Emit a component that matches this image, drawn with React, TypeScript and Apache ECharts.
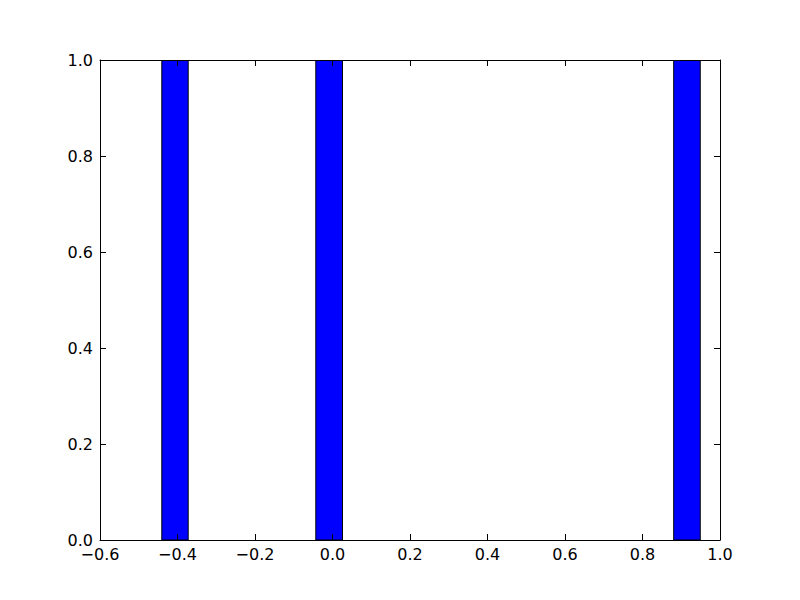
import React, { useEffect, useRef } from "react";
import * as echarts from "echarts";

const binLefts = [-0.4405, -0.0431, 0.8805];
const binRights = [-0.3724, 0.0258, 0.9490];
const counts = [1, 1, 1];
const xTicks = { min: -0.6, max: 1.0, interval: 0.2 };
const yTicks = { min: 0, max: 1.0, interval: 0.2 };

const fmt = (v: number) => {
  const n = Math.abs(v) < 1e-9 ? 0 : v;
  return n.toFixed(1).replace("-", "\u2212");
};

export default function App() {
  const ref = useRef<HTMLDivElement>(null);
  useEffect(() => {
    const chart = echarts.init(ref.current!, undefined, { renderer: "svg" });
    const data = binLefts.map((l, i) => [l, binRights[i], counts[i]]);
    const font = { fontFamily: "DejaVu Sans", fontSize: 16, color: "#000" };
    const lineStyle = { color: "#000", width: 1 };
    const tick = { show: true, inside: true, length: 6, lineStyle };
    chart.setOption({
      animation: false,
      backgroundColor: "#fff",
      grid: { left: 100, right: 80, top: 60, bottom: 60, containLabel: false },
      xAxis: [
        {
          type: "value",
          ...xTicks,
          position: "bottom",
          z: 5,
          axisLine: { show: true, lineStyle, onZero: false },
          axisTick: tick,
          splitLine: { show: false },
          axisLabel: { ...font, margin: 6, formatter: fmt },
        },
        {
          type: "value",
          ...xTicks,
          position: "top",
          z: 5,
          axisLine: { show: true, lineStyle, onZero: false },
          axisTick: tick,
          splitLine: { show: false },
          axisLabel: { show: false },
        },
      ],
      yAxis: [
        {
          type: "value",
          ...yTicks,
          position: "left",
          z: 5,
          axisLine: { show: true, lineStyle, onZero: false },
          axisTick: tick,
          splitLine: { show: false },
          axisLabel: { ...font, margin: 7, formatter: fmt },
        },
        {
          type: "value",
          ...yTicks,
          position: "right",
          z: 5,
          axisLine: { show: true, lineStyle, onZero: false },
          axisTick: tick,
          splitLine: { show: false },
          axisLabel: { show: false },
        },
      ],
      series: [
        {
          type: "custom",
          xAxisIndex: 0,
          yAxisIndex: 0,
          data,
          clip: true,
          z: 1,
          renderItem: (params: any, api: any) => {
            const p0 = api.coord([api.value(0), 0]);
            const p1 = api.coord([api.value(1), api.value(2)]);
            return {
              type: "rect",
              shape: { x: p0[0], y: p1[1], width: p1[0] - p0[0], height: p0[1] - p1[1] },
              style: { fill: "#0000ff", stroke: "#000", lineWidth: 1 },
            };
          },
        },
      ],
    });
    return () => chart.dispose();
  }, []);
  return <div ref={ref} style={{ width: 800, height: 600, position: "absolute", left: 0, top: 0 }} />;
}
